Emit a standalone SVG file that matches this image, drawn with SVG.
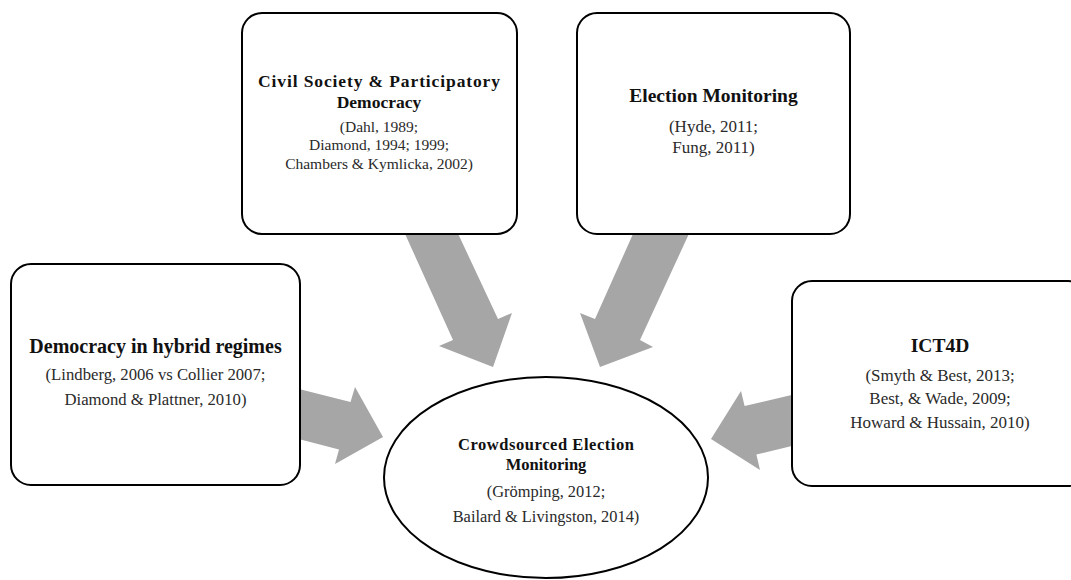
<svg xmlns="http://www.w3.org/2000/svg" width="1071" height="580" viewBox="0 0 1071 580">
<style>
.box{fill:#fff;stroke:#000;stroke-width:2}
.arr{fill:#a6a6a6;stroke:none}
text{font-family:"Liberation Serif","Times New Roman",serif;text-anchor:middle;fill:#1a1a1a}
.t{font-weight:bold;fill:#111}
.c{fill:#2a2a2a}
</style>
<rect width="1071" height="580" fill="#fff"/>
<g id="connectors">
<polygon class="arr" points="401,225 454,225 498,319 512,313 493,367 439,346 453,340"/>
<polygon class="arr" points="637,225 693,225 640,340 653,347 600,367 580,313 595,319"/>
<polygon class="arr" points="290,386.7 350.5,402 355,387 383,437 335,464 339,449.5 290,436.7"/>
<polygon class="arr" points="800,393.1 744.6,406 741,391 711,439 760,470 756.4,454.5 800,444.1"/>
</g>
<g id="civil-society">
<rect class="box" x="242" y="13" width="275" height="221" rx="20"/>
<text class="t" x="379" y="87" font-size="17.5" textLength="242">Civil Society &amp; Participatory</text>
<text class="t" x="379" y="108" font-size="17.5">Democracy</text>
<text class="c" x="379" y="132" font-size="15.5">(Dahl, 1989;</text>
<text class="c" x="379" y="150" font-size="15.5">Diamond, 1994; 1999;</text>
<text class="c" x="379" y="169" font-size="15.5">Chambers &amp; Kymlicka, 2002)</text>
</g>
<g id="election-monitoring">
<rect class="box" x="577" y="13" width="273" height="221" rx="20"/>
<text class="t" x="713.5" y="102" font-size="19.5">Election Monitoring</text>
<text class="c" x="713.5" y="132" font-size="17">(Hyde, 2011;</text>
<text class="c" x="713.5" y="153" font-size="17">Fung, 2011)</text>
</g>
<g id="hybrid-regimes">
<rect class="box" x="11" y="264" width="289" height="221" rx="20"/>
<text class="t" x="155.5" y="353" font-size="20">Democracy in hybrid regimes</text>
<text class="c" x="155.5" y="380" font-size="16.7">(Lindberg, 2006 vs Collier 2007;</text>
<text class="c" x="155.5" y="405" font-size="16.7">Diamond &amp; Plattner, 2010)</text>
</g>
<g id="ict4d">
<rect class="box" x="792" y="281" width="296" height="205" rx="20"/>
<text class="t" x="940" y="352" font-size="19.5">ICT4D</text>
<text class="c" x="940" y="381" font-size="17">(Smyth &amp; Best, 2013;</text>
<text class="c" x="940" y="404" font-size="17">Best, &amp; Wade, 2009;</text>
<text class="c" x="940" y="428" font-size="17">Howard &amp; Hussain, 2010)</text>
</g>
<g id="crowdsourced">
<ellipse class="box" cx="546" cy="477.5" rx="162" ry="100.5" stroke-width="1.8"/>
<text class="t" x="546" y="450" font-size="16.5" textLength="176">Crowdsourced Election</text>
<text class="t" x="546" y="470" font-size="16.5">Monitoring</text>
<text class="c" x="546" y="497" font-size="16.4">(Grömping, 2012;</text>
<text class="c" x="546" y="522" font-size="16.4">Bailard &amp; Livingston, 2014)</text>
</g>
</svg>
